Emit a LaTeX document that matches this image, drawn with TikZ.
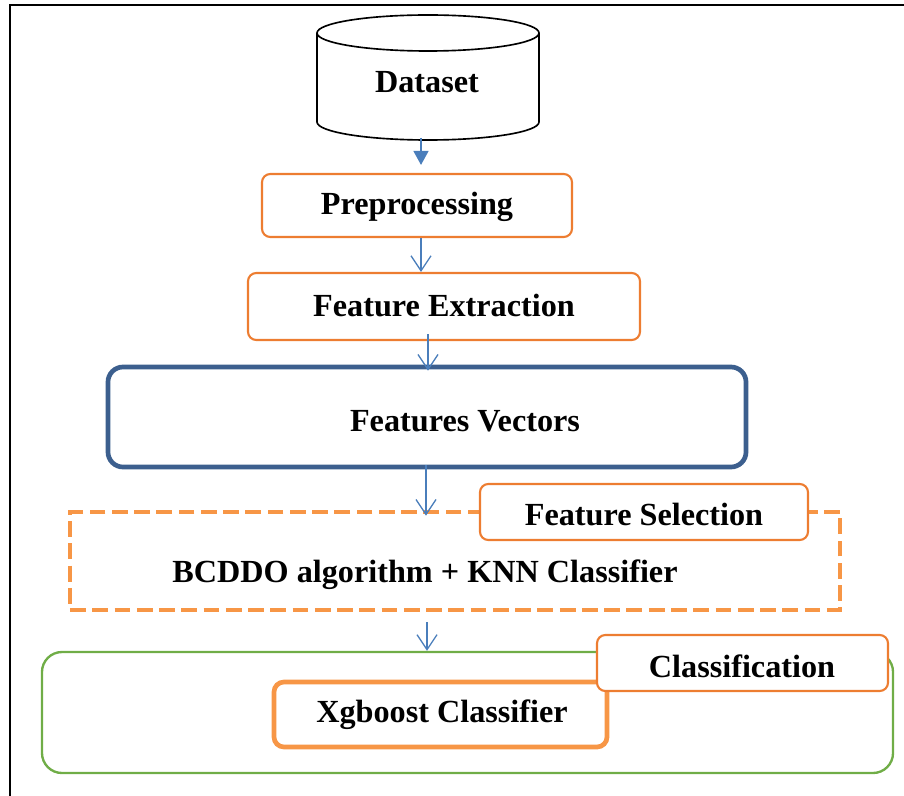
\documentclass[tikz,border=0pt]{standalone}
\usepackage{fontspec}
\setmainfont{Liberation Serif}
\usetikzlibrary{arrows.meta}
\definecolor{arrowblue}{HTML}{4A7EBB}
\definecolor{vecblue}{HTML}{3C5F8E}
\definecolor{thinorange}{HTML}{ED7D31}
\definecolor{thickorange}{HTML}{F79646}
\definecolor{boxgreen}{HTML}{70AD47}
\newcommand{\lblfont}{\fontsize{27.5}{31}\selectfont\bfseries}
\tikzset{
  lbl/.style={inner sep=0pt, font=\lblfont},
  thinbox/.style={draw=thinorange, line width=1.8pt, rounded corners=0.25cm, fill=white, inner sep=0pt},
  vecbox/.style={draw=vecblue, line width=4pt, rounded corners=0.45cm, inner sep=0pt},
  selbox/.style={draw=thickorange, line width=4pt, dash pattern=on 13.5pt off 5.5pt, inner sep=0pt},
  classbox/.style={draw=boxgreen, line width=2pt, rounded corners=0.6cm, inner sep=0pt},
  xgbox/.style={draw=thickorange, line width=4pt, rounded corners=0.3cm, fill=white, inner sep=0pt},
  fillarrow/.style={draw=arrowblue, line width=1.2pt, -{Triangle[length=0.42cm, width=0.45cm]}},
  openarrow/.style={draw=arrowblue, line width=1.1pt, -{Straight Barb[length=0.45cm, width=0.6cm]}}
}

\begin{document}
\begin{tikzpicture}[x=0.03cm, y=-0.03cm]
		\useasboundingbox (0,0) rectangle (904,796);
		\draw[line width=1.6pt] (904,5) -- (10,5) -- (10,796);
		%
		\draw[line width=1.4pt] (317,33) -- (317,122) arc[start angle=180, end angle=360, x radius=3.33cm, y radius=0.54cm] -- (539,33);
		\draw[line width=1.4pt] (428,33) ellipse [x radius=3.33cm, y radius=0.54cm];
		\node[lbl] (data) at (427,82) {Dataset};
		\coordinate (datbot) at (421,138);
		%
		\node[thinbox, minimum width=9.3cm, minimum height=1.89cm] (pre) at (417,205.5) {};
		\node[lbl] (prelbl) at (417,207) {Preprocessing};
		\node[thinbox, minimum width=11.76cm, minimum height=2.01cm] (fe) at (444,306.5) {};
		\node[lbl] (felbl) at (444,306) {Feature Extraction};
		\node[vecbox, minimum width=19.14cm, minimum height=3cm] (vec) at (427,417) {};
		\node[lbl] (veclbl) at (465,421) {Features Vectors};
		%
		\node[selbox, minimum width=23.1cm, minimum height=2.94cm] (sel) at (455,561) {};
		\node[lbl] (sellbl) at (425,575) {BCDDO algorithm + KNN Classifier};
		\node[thinbox, minimum width=9.84cm, minimum height=1.68cm] (fs) at (644,512) {};
		\node[lbl] (fslbl) at (644,515) {Feature Selection};
		%
		\node[classbox, minimum width=25.53cm, minimum height=3.63cm] (cls) at (467.5,712.5) {};
		\node[xgbox, minimum width=9.99cm, minimum height=1.95cm] (xg) at (440.5,714.5) {};
		\node[lbl] (xglbl) at (442,715) {Xgboost Classifier};
		\node[thinbox, minimum width=8.73cm, minimum height=1.68cm] (clsbox) at (742.5,663) {};
		\node[lbl] (clslbl) at (742,666) {Classification};
		%
		\draw[fillarrow, shorten >=0.24cm] (datbot) -- (datbot |- pre.north);
		\draw[openarrow] ([xshift=0.12cm]pre.south) -- ([xshift=0.12cm]pre.south |- fe.north);
		\draw[openarrow, shorten <=-0.2cm, shorten >=-0.18cm] ([xshift=-0.48cm]fe.south) -- ([xshift=-0.48cm]fe.south |- vec.north);
		\draw[openarrow, shorten <=-0.12cm, shorten >=-0.18cm] ([xshift=-0.03cm]vec.south) -- ([xshift=-0.03cm]vec.south |- sel.north);
		\draw[openarrow, shorten <=0.3cm] ([xshift=-0.84cm]sel.south) -- ([xshift=-0.84cm]sel.south |- cls.north);
	\end{tikzpicture}
\end{document}
